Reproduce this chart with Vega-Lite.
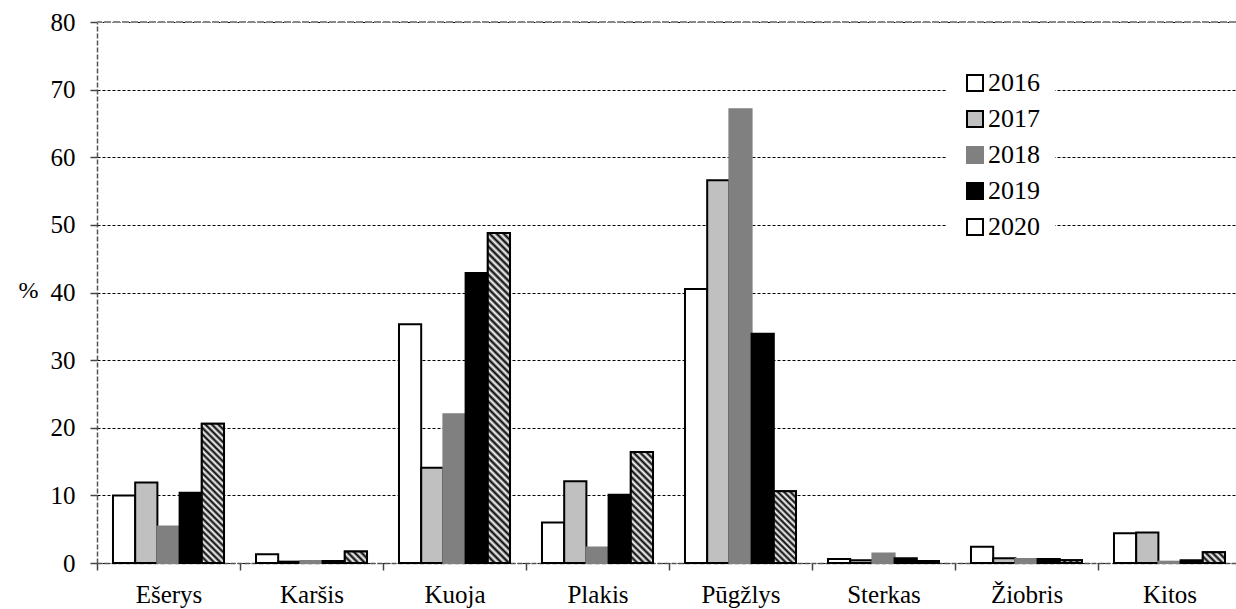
{
  "$schema": "https://vega.github.io/schema/vega-lite/v6.json",
  "autosize": {"type": "none"},
  "padding": {"left": 97, "top": 22, "right": 0, "bottom": 46},
  "width": 1139,
  "height": 541,
  "background": "white",
  "config": {
    "view": {"stroke": null},
    "font": "Liberation Serif",
    "axis": {"labelFont": "Liberation Serif", "titleFont": "Liberation Serif", "labelColor": "black", "titleColor": "black"},
    "legend": {"labelFont": "Liberation Serif"}
  },
  "data": {
    "values": [
      {"species": "Ešerys", "year": "2016", "value": 10.0},
      {"species": "Ešerys", "year": "2017", "value": 11.9},
      {"species": "Ešerys", "year": "2018", "value": 5.4},
      {"species": "Ešerys", "year": "2019", "value": 10.4},
      {"species": "Ešerys", "year": "2020", "value": 20.6},
      {"species": "Karšis", "year": "2016", "value": 1.3},
      {"species": "Karšis", "year": "2017", "value": 0.2},
      {"species": "Karšis", "year": "2018", "value": 0.3},
      {"species": "Karšis", "year": "2019", "value": 0.3},
      {"species": "Karšis", "year": "2020", "value": 1.7},
      {"species": "Kuoja", "year": "2016", "value": 35.3},
      {"species": "Kuoja", "year": "2017", "value": 14.1},
      {"species": "Kuoja", "year": "2018", "value": 22.0},
      {"species": "Kuoja", "year": "2019", "value": 42.9},
      {"species": "Kuoja", "year": "2020", "value": 48.8},
      {"species": "Plakis", "year": "2016", "value": 6.0},
      {"species": "Plakis", "year": "2017", "value": 12.1},
      {"species": "Plakis", "year": "2018", "value": 2.3},
      {"species": "Plakis", "year": "2019", "value": 10.1},
      {"species": "Plakis", "year": "2020", "value": 16.4},
      {"species": "Pūgžlys", "year": "2016", "value": 40.5},
      {"species": "Pūgžlys", "year": "2017", "value": 56.6},
      {"species": "Pūgžlys", "year": "2018", "value": 67.1},
      {"species": "Pūgžlys", "year": "2019", "value": 33.9},
      {"species": "Pūgžlys", "year": "2020", "value": 10.6},
      {"species": "Sterkas", "year": "2016", "value": 0.6},
      {"species": "Sterkas", "year": "2017", "value": 0.4},
      {"species": "Sterkas", "year": "2018", "value": 1.4},
      {"species": "Sterkas", "year": "2019", "value": 0.7},
      {"species": "Sterkas", "year": "2020", "value": 0.3},
      {"species": "Žiobris", "year": "2016", "value": 2.4},
      {"species": "Žiobris", "year": "2017", "value": 0.7},
      {"species": "Žiobris", "year": "2018", "value": 0.6},
      {"species": "Žiobris", "year": "2019", "value": 0.6},
      {"species": "Žiobris", "year": "2020", "value": 0.4},
      {"species": "Kitos", "year": "2016", "value": 4.4},
      {"species": "Kitos", "year": "2017", "value": 4.5},
      {"species": "Kitos", "year": "2018", "value": 0.2},
      {"species": "Kitos", "year": "2019", "value": 0.4},
      {"species": "Kitos", "year": "2020", "value": 1.6}
    ]
  },
  "layer": [
    {
      "mark": {"type": "bar", "strokeWidth": 2},
      "encoding": {
        "x": {
          "field": "species", "type": "nominal",
          "sort": ["Ešerys", "Karšis", "Kuoja", "Plakis", "Pūgžlys", "Sterkas", "Žiobris", "Kitos"],
          "scale": {"range": [0, 1144], "paddingInner": 0, "paddingOuter": 0},
          "axis": {"title": null, "tickBand": "extent", "labelAngle": 0, "labelPadding": 12, "labelFontSize": 25, "tickSize": 7, "tickColor": "#444", "tickWidth": 1.5, "domainColor": "#555", "domainDash": [5, 2], "domainWidth": 1.5, "grid": false}
        },
        "xOffset": {
          "field": "year", "type": "nominal",
          "scale": {"domain": ["2016", "2017", "2018", "2019", "2020"], "paddingInner": 0, "paddingOuter": 0.72}
        },
        "y": {
          "field": "value", "type": "quantitative",
          "scale": {"domain": [0, 80], "nice": false},
          "axis": {"values": [0, 10, 20, 30, 40, 50, 60, 70, 80], "grid": true, "gridColor": "black", "gridDash": [3, 2], "gridWidth": 1, "domainColor": "#555", "domainDash": [5, 2], "domainWidth": 1.5, "tickColor": "#444", "tickSize": 7, "tickWidth": 1.5, "labelPadding": 15, "labelFontSize": 25, "title": "%", "titleAngle": 0, "titleX": -79, "titleY": 268, "titleAlign": "left", "titleBaseline": "middle", "titleFontSize": 24, "titleFontWeight": "normal"}
        },
        "stroke": {
          "field": "year", "type": "nominal",
          "scale": {"domain": ["2016", "2017", "2018", "2019", "2020"], "range": ["#000000", "#000000", "#808080", "#000000", "#000000"]},
          "legend": {"title": null}
        },
        "fill": {
          "field": "year", "type": "nominal",
          "scale": {"domain": ["2016", "2017", "2018", "2019", "2020"], "range": ["#ffffff", "#c0c0c0", "#808080", "#000000", "#ffffff"]},
          "legend": {
            "title": null,
            "orient": "none",
            "legendX": 850,
            "legendY": 33,
            "direction": "vertical",
            "symbolType": "square",
            "symbolSize": 256,
            "symbolStrokeWidth": 2,
            "labelFont": "Liberation Serif",
            "labelFontSize": 26,
            "labelColor": "black",
            "labelOffset": 0,
            "rowPadding": 10,
            "padding": 15,
            "fillColor": "white"
          }
        }
      }
    },
    {
      "transform": [{"filter": "datum.year === '2020'"}],
      "mark": {"type": "bar", "strokeWidth": 2, "stroke": "#000000"},
      "encoding": {
        "x": {
          "field": "species", "type": "nominal",
          "sort": ["Ešerys", "Karšis", "Kuoja", "Plakis", "Pūgžlys", "Sterkas", "Žiobris", "Kitos"],
          "scale": {"range": [0, 1144], "paddingInner": 0, "paddingOuter": 0}
        },
        "xOffset": {
          "field": "year", "type": "nominal",
          "scale": {"domain": ["2016", "2017", "2018", "2019", "2020"], "paddingInner": 0, "paddingOuter": 0.72}
        },
        "y": {
          "field": "value", "type": "quantitative",
          "scale": {"domain": [0, 80], "nice": false}
        },
        "fill": {
          "condition": [
            {"test": "datum.species === 'Kuoja'", "value": {"gradient": "linear", "x1": 0, "y1": 1, "x2": 0.0715, "y2": -0.0625, "stops": [
              {"offset": 0, "color": "#000"}, {"offset": 0.01, "color": "#fff"}, {"offset": 0.02, "color": "#000"}, {"offset": 0.03, "color": "#fff"}, {"offset": 0.04, "color": "#000"}, {"offset": 0.05, "color": "#fff"}, {"offset": 0.06, "color": "#000"}, {"offset": 0.07, "color": "#fff"}, {"offset": 0.08, "color": "#000"}, {"offset": 0.09, "color": "#fff"},
              {"offset": 0.1, "color": "#000"}, {"offset": 0.11, "color": "#fff"}, {"offset": 0.12, "color": "#000"}, {"offset": 0.13, "color": "#fff"}, {"offset": 0.14, "color": "#000"}, {"offset": 0.15, "color": "#fff"}, {"offset": 0.16, "color": "#000"}, {"offset": 0.17, "color": "#fff"}, {"offset": 0.18, "color": "#000"}, {"offset": 0.19, "color": "#fff"},
              {"offset": 0.2, "color": "#000"}, {"offset": 0.21, "color": "#fff"}, {"offset": 0.22, "color": "#000"}, {"offset": 0.23, "color": "#fff"}, {"offset": 0.24, "color": "#000"}, {"offset": 0.25, "color": "#fff"}, {"offset": 0.26, "color": "#000"}, {"offset": 0.27, "color": "#fff"}, {"offset": 0.28, "color": "#000"}, {"offset": 0.29, "color": "#fff"},
              {"offset": 0.3, "color": "#000"}, {"offset": 0.31, "color": "#fff"}, {"offset": 0.32, "color": "#000"}, {"offset": 0.33, "color": "#fff"}, {"offset": 0.34, "color": "#000"}, {"offset": 0.35, "color": "#fff"}, {"offset": 0.36, "color": "#000"}, {"offset": 0.37, "color": "#fff"}, {"offset": 0.38, "color": "#000"}, {"offset": 0.39, "color": "#fff"},
              {"offset": 0.4, "color": "#000"}, {"offset": 0.41, "color": "#fff"}, {"offset": 0.42, "color": "#000"}, {"offset": 0.43, "color": "#fff"}, {"offset": 0.44, "color": "#000"}, {"offset": 0.45, "color": "#fff"}, {"offset": 0.46, "color": "#000"}, {"offset": 0.47, "color": "#fff"}, {"offset": 0.48, "color": "#000"}, {"offset": 0.49, "color": "#fff"},
              {"offset": 0.5, "color": "#000"}, {"offset": 0.51, "color": "#fff"}, {"offset": 0.52, "color": "#000"}, {"offset": 0.53, "color": "#fff"}, {"offset": 0.54, "color": "#000"}, {"offset": 0.55, "color": "#fff"}, {"offset": 0.56, "color": "#000"}, {"offset": 0.57, "color": "#fff"}, {"offset": 0.58, "color": "#000"}, {"offset": 0.59, "color": "#fff"},
              {"offset": 0.6, "color": "#000"}, {"offset": 0.61, "color": "#fff"}, {"offset": 0.62, "color": "#000"}, {"offset": 0.63, "color": "#fff"}, {"offset": 0.64, "color": "#000"}, {"offset": 0.65, "color": "#fff"}, {"offset": 0.66, "color": "#000"}, {"offset": 0.67, "color": "#fff"}, {"offset": 0.68, "color": "#000"}, {"offset": 0.69, "color": "#fff"},
              {"offset": 0.7, "color": "#000"}, {"offset": 0.71, "color": "#fff"}, {"offset": 0.72, "color": "#000"}, {"offset": 0.73, "color": "#fff"}, {"offset": 0.74, "color": "#000"}, {"offset": 0.75, "color": "#fff"}, {"offset": 0.76, "color": "#000"}, {"offset": 0.77, "color": "#fff"}, {"offset": 0.78, "color": "#000"}, {"offset": 0.79, "color": "#fff"},
              {"offset": 0.8, "color": "#000"}, {"offset": 0.81, "color": "#fff"}, {"offset": 0.82, "color": "#000"}, {"offset": 0.83, "color": "#fff"}, {"offset": 0.84, "color": "#000"}, {"offset": 0.85, "color": "#fff"}, {"offset": 0.86, "color": "#000"}, {"offset": 0.87, "color": "#fff"}, {"offset": 0.88, "color": "#000"}, {"offset": 0.89, "color": "#fff"},
              {"offset": 0.9, "color": "#000"}, {"offset": 0.91, "color": "#fff"}, {"offset": 0.92, "color": "#000"}, {"offset": 0.93, "color": "#fff"}, {"offset": 0.94, "color": "#000"}, {"offset": 0.95, "color": "#fff"}, {"offset": 0.96, "color": "#000"}, {"offset": 0.97, "color": "#fff"}, {"offset": 0.98, "color": "#000"}, {"offset": 0.99, "color": "#fff"},
              {"offset": 1, "color": "#000"}]}},
            {"test": "datum.species === 'Ešerys'", "value": {"gradient": "linear", "x1": 0, "y1": 1, "x2": 0.1801, "y2": -0.1306, "stops": [
              {"offset": 0, "color": "#000"}, {"offset": 0.02, "color": "#fff"}, {"offset": 0.04, "color": "#000"}, {"offset": 0.06, "color": "#fff"}, {"offset": 0.08, "color": "#000"}, {"offset": 0.1, "color": "#fff"}, {"offset": 0.12, "color": "#000"}, {"offset": 0.14, "color": "#fff"}, {"offset": 0.16, "color": "#000"}, {"offset": 0.18, "color": "#fff"},
              {"offset": 0.2, "color": "#000"}, {"offset": 0.22, "color": "#fff"}, {"offset": 0.24, "color": "#000"}, {"offset": 0.26, "color": "#fff"}, {"offset": 0.28, "color": "#000"}, {"offset": 0.3, "color": "#fff"}, {"offset": 0.32, "color": "#000"}, {"offset": 0.34, "color": "#fff"}, {"offset": 0.36, "color": "#000"}, {"offset": 0.38, "color": "#fff"},
              {"offset": 0.4, "color": "#000"}, {"offset": 0.42, "color": "#fff"}, {"offset": 0.44, "color": "#000"}, {"offset": 0.46, "color": "#fff"}, {"offset": 0.48, "color": "#000"}, {"offset": 0.5, "color": "#fff"}, {"offset": 0.52, "color": "#000"}, {"offset": 0.54, "color": "#fff"}, {"offset": 0.56, "color": "#000"}, {"offset": 0.58, "color": "#fff"},
              {"offset": 0.6, "color": "#000"}, {"offset": 0.62, "color": "#fff"}, {"offset": 0.64, "color": "#000"}, {"offset": 0.66, "color": "#fff"}, {"offset": 0.68, "color": "#000"}, {"offset": 0.7, "color": "#fff"}, {"offset": 0.72, "color": "#000"}, {"offset": 0.74, "color": "#fff"}, {"offset": 0.76, "color": "#000"}, {"offset": 0.78, "color": "#fff"},
              {"offset": 0.8, "color": "#000"}, {"offset": 0.82, "color": "#fff"}, {"offset": 0.84, "color": "#000"}, {"offset": 0.86, "color": "#fff"}, {"offset": 0.88, "color": "#000"}, {"offset": 0.9, "color": "#fff"}, {"offset": 0.92, "color": "#000"}, {"offset": 0.94, "color": "#fff"}, {"offset": 0.96, "color": "#000"}, {"offset": 0.98, "color": "#fff"},
              {"offset": 1, "color": "#000"}]}},
            {"test": "datum.species === 'Plakis'", "value": {"gradient": "linear", "x1": 0, "y1": 1, "x2": 0.2309, "y2": -0.1539, "stops": [
              {"offset": 0, "color": "#000"}, {"offset": 0.025, "color": "#fff"}, {"offset": 0.05, "color": "#000"}, {"offset": 0.075, "color": "#fff"}, {"offset": 0.1, "color": "#000"}, {"offset": 0.125, "color": "#fff"}, {"offset": 0.15, "color": "#000"}, {"offset": 0.175, "color": "#fff"},
              {"offset": 0.2, "color": "#000"}, {"offset": 0.225, "color": "#fff"}, {"offset": 0.25, "color": "#000"}, {"offset": 0.275, "color": "#fff"}, {"offset": 0.3, "color": "#000"}, {"offset": 0.325, "color": "#fff"}, {"offset": 0.35, "color": "#000"}, {"offset": 0.375, "color": "#fff"},
              {"offset": 0.4, "color": "#000"}, {"offset": 0.425, "color": "#fff"}, {"offset": 0.45, "color": "#000"}, {"offset": 0.475, "color": "#fff"}, {"offset": 0.5, "color": "#000"}, {"offset": 0.525, "color": "#fff"}, {"offset": 0.55, "color": "#000"}, {"offset": 0.575, "color": "#fff"},
              {"offset": 0.6, "color": "#000"}, {"offset": 0.625, "color": "#fff"}, {"offset": 0.65, "color": "#000"}, {"offset": 0.675, "color": "#fff"}, {"offset": 0.7, "color": "#000"}, {"offset": 0.725, "color": "#fff"}, {"offset": 0.75, "color": "#000"}, {"offset": 0.775, "color": "#fff"},
              {"offset": 0.8, "color": "#000"}, {"offset": 0.825, "color": "#fff"}, {"offset": 0.85, "color": "#000"}, {"offset": 0.875, "color": "#fff"}, {"offset": 0.9, "color": "#000"}, {"offset": 0.925, "color": "#fff"}, {"offset": 0.95, "color": "#000"}, {"offset": 0.975, "color": "#fff"},
              {"offset": 1, "color": "#000"}]}},
            {"test": "datum.species === 'Pūgžlys'", "value": {"gradient": "linear", "x1": 0, "y1": 1, "x2": 0.37, "y2": -0.1951, "stops": [
              {"offset": 0, "color": "#000"}, {"offset": 0.0333, "color": "#fff"}, {"offset": 0.0667, "color": "#000"}, {"offset": 0.1, "color": "#fff"}, {"offset": 0.1333, "color": "#000"}, {"offset": 0.1667, "color": "#fff"},
              {"offset": 0.2, "color": "#000"}, {"offset": 0.2333, "color": "#fff"}, {"offset": 0.2667, "color": "#000"}, {"offset": 0.3, "color": "#fff"}, {"offset": 0.3333, "color": "#000"}, {"offset": 0.3667, "color": "#fff"},
              {"offset": 0.4, "color": "#000"}, {"offset": 0.4333, "color": "#fff"}, {"offset": 0.4667, "color": "#000"}, {"offset": 0.5, "color": "#fff"}, {"offset": 0.5333, "color": "#000"}, {"offset": 0.5667, "color": "#fff"},
              {"offset": 0.6, "color": "#000"}, {"offset": 0.6333, "color": "#fff"}, {"offset": 0.6667, "color": "#000"}, {"offset": 0.7, "color": "#fff"}, {"offset": 0.7333, "color": "#000"}, {"offset": 0.7667, "color": "#fff"},
              {"offset": 0.8, "color": "#000"}, {"offset": 0.8333, "color": "#fff"}, {"offset": 0.8667, "color": "#000"}, {"offset": 0.9, "color": "#fff"}, {"offset": 0.9333, "color": "#000"}, {"offset": 0.9667, "color": "#fff"},
              {"offset": 1, "color": "#000"}]}},
            {"test": "datum.species === 'Karšis'", "value": {"gradient": "linear", "x1": 0, "y1": 1, "x2": 1.197, "y2": 0.38, "stops": [
              {"offset": 0, "color": "#000"}, {"offset": 0.1, "color": "#fff"}, {"offset": 0.2, "color": "#000"}, {"offset": 0.3, "color": "#fff"}, {"offset": 0.4, "color": "#000"}, {"offset": 0.5, "color": "#fff"}, {"offset": 0.6, "color": "#000"}, {"offset": 0.7, "color": "#fff"}, {"offset": 0.8, "color": "#000"}, {"offset": 0.9, "color": "#fff"}, {"offset": 1, "color": "#000"}]}},
            {"test": "datum.species === 'Kitos'", "value": {"gradient": "linear", "x1": 0, "y1": 1, "x2": 1.2019, "y2": 0.4142, "stops": [
              {"offset": 0, "color": "#000"}, {"offset": 0.1, "color": "#fff"}, {"offset": 0.2, "color": "#000"}, {"offset": 0.3, "color": "#fff"}, {"offset": 0.4, "color": "#000"}, {"offset": 0.5, "color": "#fff"}, {"offset": 0.6, "color": "#000"}, {"offset": 0.7, "color": "#fff"}, {"offset": 0.8, "color": "#000"}, {"offset": 0.9, "color": "#fff"}, {"offset": 1, "color": "#000"}]}},
            {"test": "datum.species === 'Sterkas'", "value": {"gradient": "linear", "x1": 0, "y1": 1, "x2": 1.0825, "y2": 0.901, "stops": [
              {"offset": 0, "color": "#000"}, {"offset": 0.125, "color": "#fff"}, {"offset": 0.25, "color": "#000"}, {"offset": 0.375, "color": "#fff"}, {"offset": 0.5, "color": "#000"}, {"offset": 0.625, "color": "#fff"}, {"offset": 0.75, "color": "#000"}, {"offset": 0.875, "color": "#fff"}, {"offset": 1, "color": "#000"}]}},
            {"test": "datum.species === 'Žiobris'", "value": {"gradient": "linear", "x1": 0, "y1": 1, "x2": 1.1058, "y2": 0.865, "stops": [
              {"offset": 0, "color": "#000"}, {"offset": 0.125, "color": "#fff"}, {"offset": 0.25, "color": "#000"}, {"offset": 0.375, "color": "#fff"}, {"offset": 0.5, "color": "#000"}, {"offset": 0.625, "color": "#fff"}, {"offset": 0.75, "color": "#000"}, {"offset": 0.875, "color": "#fff"}, {"offset": 1, "color": "#000"}]}}
          ],
          "value": "#ffffff"
        }
      }
    },
    {
      "mark": {"type": "rule", "stroke": "#888888", "strokeWidth": 2, "strokeDash": [7, 2]},
      "encoding": {"y": {"datum": 80}}
    }
  ]
}
